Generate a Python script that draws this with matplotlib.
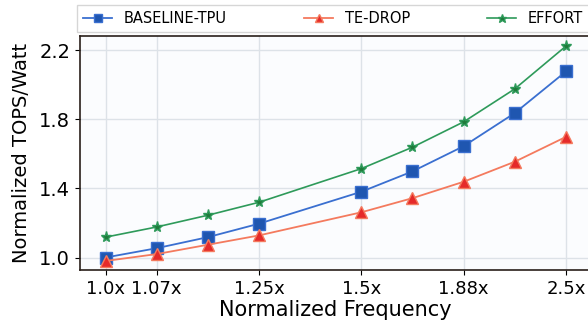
import matplotlib.pyplot as plt
import numpy as np

# positions on the x axis (index 4 has no point)
x_pos = [0, 1, 2, 3, 5, 6, 7, 8, 9]
tick_pos = [0, 1, 3, 5, 7, 9]
tick_labels = ['1.0x', '1.07x', '1.25x', '1.5x', '1.88x', '2.5x']

baseline = [1.00, 1.054, 1.118, 1.196, 1.381, 1.499, 1.645, 1.837, 2.078]
te_drop = [0.98, 1.02, 1.074, 1.128, 1.262, 1.344, 1.439, 1.555, 1.699]
effort = [1.118, 1.177, 1.245, 1.320, 1.515, 1.639, 1.786, 1.977, 2.225]

fig = plt.figure(figsize=(5.88, 3.28), dpi=100)
ax = fig.add_axes([0.136, 0.177, 0.87, 0.713])
ax.set_facecolor('#fbfcfe')

ax.plot(x_pos, baseline, color='#3a6fd0', marker='s', markersize=8,
        markerfacecolor='#1f56b0', markeredgecolor='#3a6fd0', linewidth=1.3, label='BASELINE-TPU')
ax.plot(x_pos, te_drop, color='#f47a5e', marker='^', markersize=8,
        markerfacecolor='#e52a2a', markeredgecolor='#f47a5e', linewidth=1.3, label='TE-DROP')
ax.plot(x_pos, effort, color='#2e9a5a', marker='*', markersize=8,
        markerfacecolor='#1f7a3a', markeredgecolor='#2e9a5a', linewidth=1.2, label='EFFORT')

ax.set_xlim(-0.5, 9.5)
ax.set_ylim(0.928, 2.283)
ax.set_xticks(tick_pos)
ax.set_xticklabels(tick_labels, fontsize=13)
ax.set_yticks([1.0, 1.4, 1.8, 2.2])
ax.tick_params(axis='y', labelsize=14)
ax.grid(True, color='#dde2e8', linewidth=1)
ax.set_axisbelow(True)
for s in ax.spines.values():
    s.set_color('#2a1f1a')
    s.set_linewidth(1.2)

ax.set_xlabel('Normalized Frequency', fontsize=15, labelpad=2)
ax.set_ylabel('Normalized TOPS/Watt', fontsize=14, labelpad=6)

ax.legend(loc='lower left', bbox_to_anchor=(-0.005, 1.018, 1.0, 0.1), ncol=3, mode='expand',
          fontsize=10.5, frameon=True, edgecolor='#cccccc', fancybox=False, borderaxespad=0,
          markerscale=0.8)

fig.savefig('out.png', dpi=100)
